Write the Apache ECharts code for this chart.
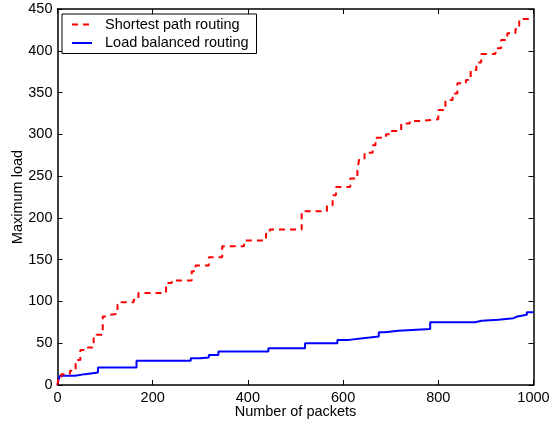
<!DOCTYPE html>
<html>
<head>
<meta charset="utf-8">
<script src="https://cdn.jsdelivr.net/npm/echarts@6/dist/echarts.min.js"></script>
<style>
html,body{margin:0;padding:0;background:#fff;}
#c{width:556px;height:424px;}
</style>
</head>
<body>
<div id="c"></div>
<script>
// Step data: [packet count where level starts, maximum load]
var shortestPath = [[0,0],[2,10],[8,13],[26,17],[38,30],[48,42],[64,45],[76,56],[82,60],[95,82],[102,84],[108,85],[126,96],[134,99],[160,102],[170,110],[228,122],[240,125],[282,136],[290,143],[318,153],[346,166],[392,173],[438,181],[446,186],[513,208],[566,215],[578,227],[585,237],[615,247],[630,257],[634,271],[645,278],[662,287],[668,296],[690,300],[700,304],[722,313],[740,316],[762,318],[800,329],[815,341],[830,349],[840,361],[858,365],[868,377],[880,386],[890,396],[920,403],[932,413],[945,421],[962,426],[970,438],[1000,438]];
var loadBalanced = [[0,0],[2,6],[5,11],[37,13],[58,15],[85,21],[166,29],[280,32],[300,33],[318,36],[338,40],[443,44],[520,50],[588,54],[612,56],[642,58],[675,63],[688,65],[716,67],[783,75],[877,77],[891,78],[926,80],[958,82],[966,84],[986,87],[1000,87]];
var seriesNames = ['Shortest path routing', 'Load balanced routing'];
var xTitle = 'Number of packets';
var yTitle = 'Maximum load';

var font = 'Liberation Sans, Arial, Helvetica, sans-serif';
var chart = echarts.init(document.getElementById('c'), null, {renderer: 'canvas'});
var axisLine = {show: true, onZero: false, lineStyle: {color: '#000', width: 1.5}};
var tick = {show: true, inside: true, length: 5, lineStyle: {color: '#000', width: 1}};
function plain(v) { return String(v); }
chart.setOption({
  animation: false,
  backgroundColor: '#fff',
  grid: {left: 57.5, right: 22.5, top: 9, bottom: 39, containLabel: false, outerBoundsMode: 'none'},
  legend: {
    orient: 'vertical', left: 62, top: 14,
    padding: [3, 8, 3, 9],
    itemGap: 3.5, itemWidth: 20, itemHeight: 14,
    borderColor: '#000', borderWidth: 1, backgroundColor: '#fff',
    itemStyle: {opacity: 0},
    textStyle: {fontFamily: font, fontSize: 14.5, color: '#000', padding: [0, 0, 0, 8]},
    data: seriesNames
  },
  xAxis: [{
    type: 'value', min: 0, max: 1000, interval: 200, position: 'bottom',
    axisLine: axisLine, axisTick: tick, splitLine: {show: false},
    axisLabel: {color: '#000', fontFamily: font, fontSize: 14.5, margin: 5, formatter: plain},
    name: xTitle, nameLocation: 'middle', nameGap: 19, nameMoveOverlap: false,
    nameTextStyle: {color: '#000', fontFamily: font, fontSize: 14.5}
  }, {
    type: 'value', min: 0, max: 1000, interval: 200, position: 'top',
    axisLine: axisLine, axisTick: tick, splitLine: {show: false},
    axisLabel: {show: false}
  }],
  yAxis: [{
    type: 'value', min: 0, max: 450, interval: 50, position: 'left',
    axisLine: axisLine, axisTick: tick, splitLine: {show: false},
    axisLabel: {color: '#000', fontFamily: font, fontSize: 14.5, margin: 5, formatter: plain},
    name: yTitle, nameLocation: 'middle', nameGap: 32, nameMoveOverlap: false,
    nameTextStyle: {color: '#000', fontFamily: font, fontSize: 14.5}
  }, {
    type: 'value', min: 0, max: 450, interval: 50, position: 'right',
    axisLine: axisLine, axisTick: tick, splitLine: {show: false},
    axisLabel: {show: false}
  }],
  series: [{
    name: seriesNames[0], type: 'line', step: 'end', data: shortestPath,
    xAxisIndex: 0, yAxisIndex: 0, showSymbol: false, symbol: 'none',
    lineStyle: {color: '#ff0000', width: 2, type: [6, 5]},
    itemStyle: {color: '#ff0000'}, z: 3
  }, {
    name: seriesNames[1], type: 'line', step: 'end', data: loadBalanced,
    xAxisIndex: 0, yAxisIndex: 0, showSymbol: false, symbol: 'none',
    lineStyle: {color: '#0000ff', width: 2},
    itemStyle: {color: '#0000ff'}, z: 2
  }]
});
</script>
</body>
</html>
